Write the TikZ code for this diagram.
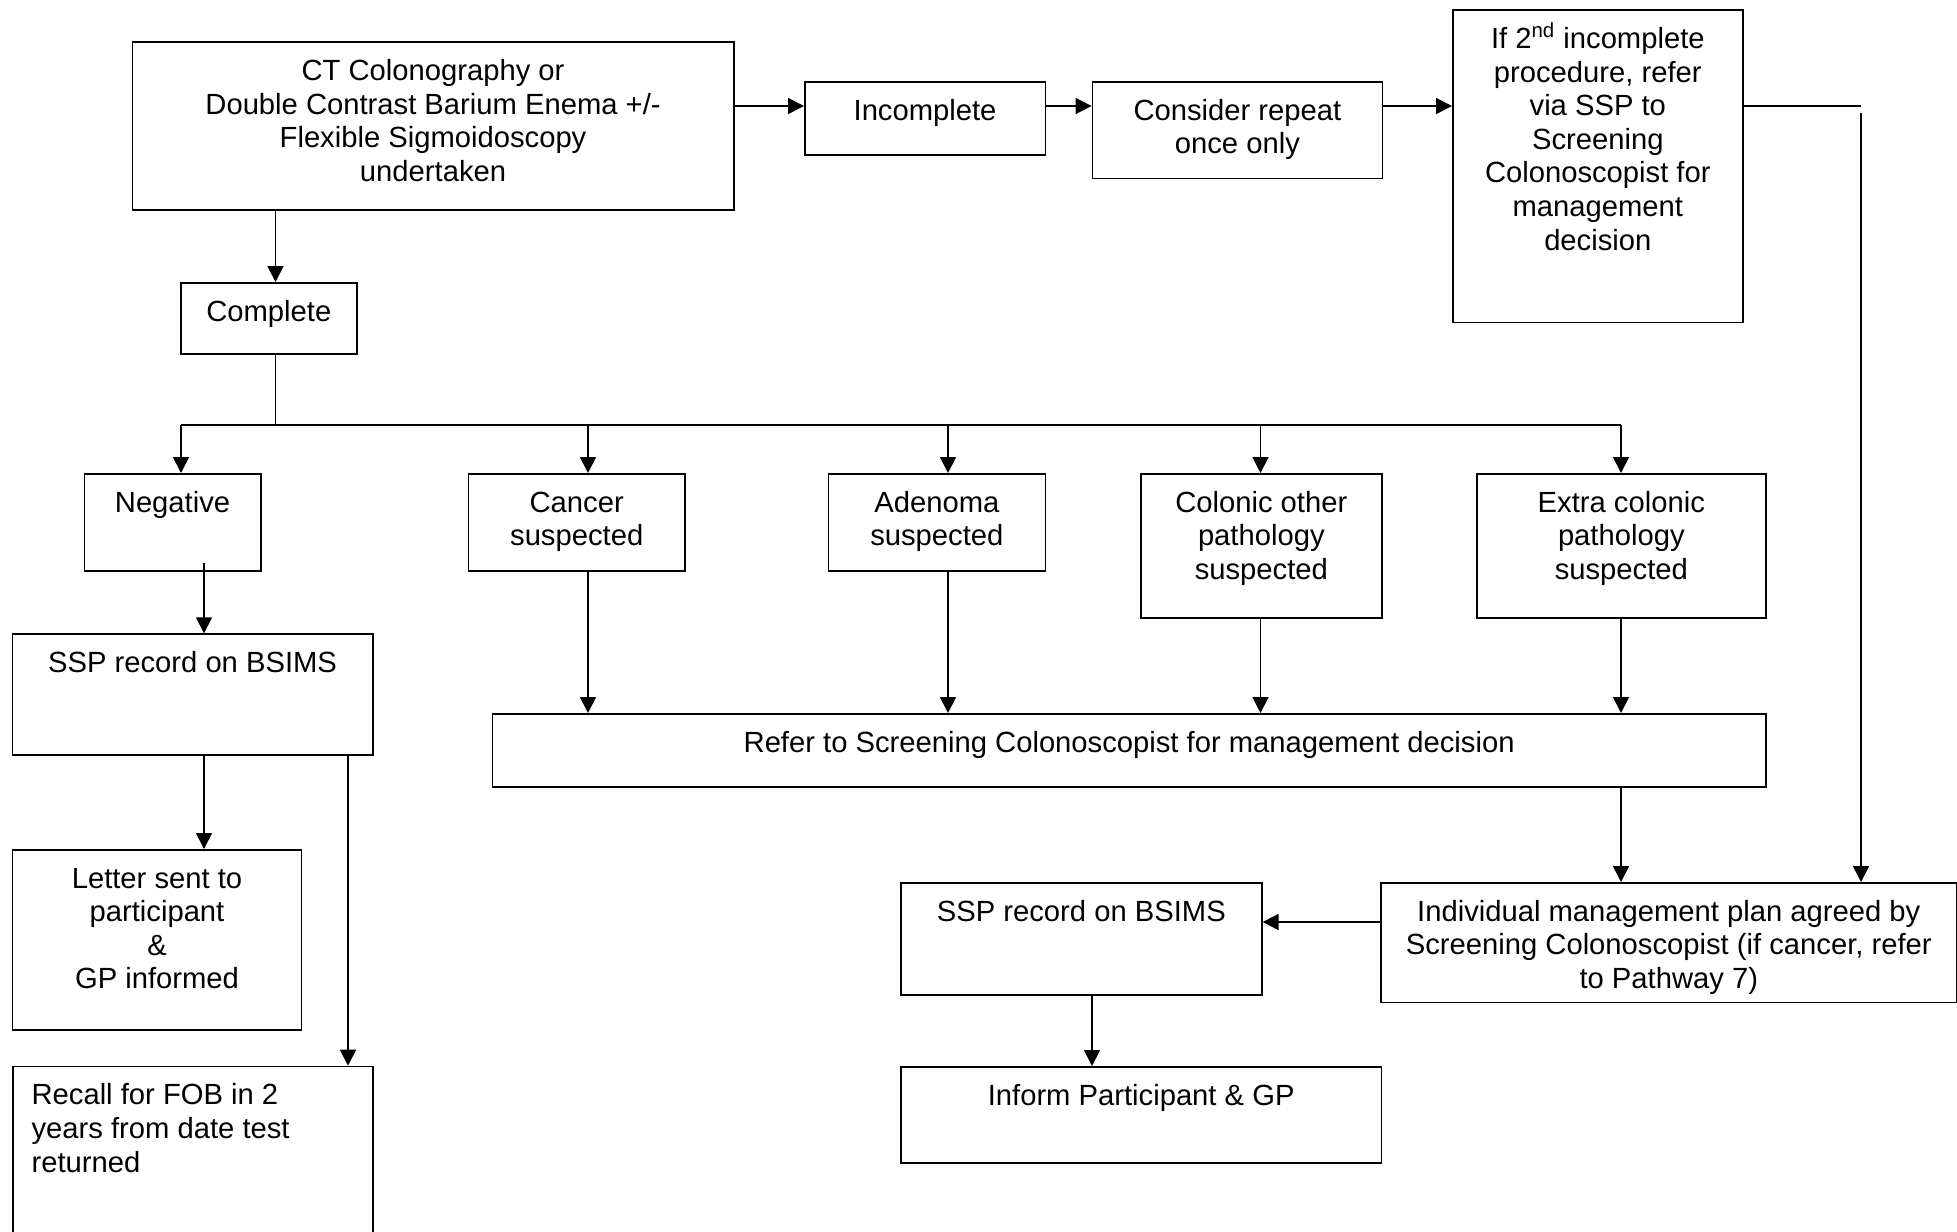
\documentclass[tikz,border=0pt]{standalone}
\usepackage{fontspec}
\setmainfont{Liberation Sans}
\usetikzlibrary{arrows.meta}
\tikzset{
  box/.style={draw, line width=0.8pt, inner sep=0pt, anchor=north west},
  txt/.style={inner sep=0pt, anchor=north, align=center, font=\fontsize{14.6pt}{16.8pt}\selectfont},
  txtl/.style={inner sep=0pt, anchor=north west, align=left, font=\fontsize{14.6pt}{16.8pt}\selectfont},
  conn/.style={line width=0.85pt},
  arr/.style={line width=0.85pt, -{Triangle[length=8pt,width=8pt]}}
}
\newcommand\fbx[6]{%
  \node[box, minimum width={(#4-#2)*0.5pt}, minimum height={(#5-#3)*0.5pt}] (#1) at (#2,#3) {};
  \node[txt] (#1-t) at ([yshift=-7.6pt]#1.north) {\strut #6};}
\begin{document}
\begin{tikzpicture}[x=0.5pt, y=-0.5pt]
\useasboundingbox (0,0) rectangle (1957,1231);
\clip (0,0) rectangle (1957,1231);

% boxes
\fbx{ct}{131.5}{41.3}{733}{209.3}{CT Colonography or\\Double Contrast Barium Enema +/-\\Flexible Sigmoidoscopy\\undertaken}
\fbx{inc}{804}{81}{1044.5}{154}{Incomplete}
\fbx{cons}{1091.6}{81}{1381.6}{177.7}{Consider repeat\\once only}
\fbx{if2}{1452}{9.3}{1742}{321.7}{If 2\smash{\textsuperscript{nd}} incomplete\\procedure, refer\\via SSP to\\Screening\\Colonoscopist for\\management\\decision}
\fbx{comp}{180}{282}{356}{353}{Complete}
\fbx{neg}{83.5}{473}{260}{570}{Negative}
\fbx{cancer}{467.5}{473}{684.3}{570}{Cancer\\suspected}
\fbx{aden}{827.5}{473}{1044.6}{570}{Adenoma\\suspected}
\fbx{colo}{1140}{473}{1381}{617}{Colonic other\\pathology\\suspected}
\fbx{extra}{1476}{473}{1765}{617}{Extra colonic\\pathology\\suspected}
\fbx{sspa}{11.5}{633.3}{372}{754}{SSP record on BSIMS}
\fbx{refer}{491.7}{713}{1765}{786}{Refer to Screening Colonoscopist for management decision}
\fbx{letter}{11.7}{849}{300.7}{1029}{Letter sent to\\participant\\\&\\GP informed}
\node[box, minimum width={(372-12)*0.5pt}, minimum height={(1260-1065.7)*0.5pt}] (recall) at (12,1065.7) {};
\node[txtl] (recall-t) at ([xshift=9.6pt,yshift=-7.6pt]recall.north west) {\strut Recall for FOB in 2\\years from date test\\returned};
\fbx{indiv}{1380}{882}{1956}{1001.7}{Individual management plan agreed by\\Screening Colonoscopist (if cancer, refer\\to Pathway 7)}
\fbx{sspb}{900}{882}{1261}{994}{SSP record on BSIMS}
\fbx{inform}{900}{1066}{1380.7}{1162}{Inform Participant \& GP}

% helper coordinates
\coordinate (row1) at (0,106);
\coordinate (rt1) at (1861,106);
\coordinate (rt2) at (1861,113);
\coordinate (xc) at (275.5,0);
\coordinate (bus) at (0,425);
\coordinate (xneg) at (181,0);
\coordinate (xcan) at (588,0);
\coordinate (xade) at (948,0);
\coordinate (xcol) at (1260.5,0);
\coordinate (xext) at (1621,0);
\coordinate (xsa) at (204,0);
\coordinate (xsb) at (348,0);
\coordinate (row2) at (0,922);
\coordinate (xinf) at (1092,0);

% top row
\draw[arr] (ct.east |- row1) -- (inc.west |- row1);
\draw[arr] (inc.east |- row1) -- (cons.west |- row1);
\draw[arr] (cons.east |- row1) -- (if2.west |- row1);
\draw[conn] (if2.east |- row1) -- (rt1);
\draw[arr] (rt2) -- (indiv.north -| rt2);

% complete and branches
\draw[arr] (ct.south -| xc) -- (comp.north -| xc);
\draw[conn] (comp.south -| xc) -- (bus -| xc);
\draw[conn] (bus -| xneg) -- (bus -| xext);
\draw[arr] (bus -| xneg) -- (neg.north -| xneg);
\draw[arr] (bus -| xcan) -- (cancer.north -| xcan);
\draw[arr] (bus -| xade) -- (aden.north -| xade);
\draw[arr] (bus -| xcol) -- (colo.north -| xcol);
\draw[arr] (bus -| xext) -- (extra.north -| xext);

% negative path
\draw[arr] ([yshift=4.5pt]neg.south -| xsa) -- (sspa.north -| xsa);
\draw[arr] (sspa.south -| xsa) -- (letter.north -| xsa);
\draw[arr] (sspa.south -| xsb) -- (recall.north -| xsb);

% to refer
\draw[arr] (cancer.south -| xcan) -- (refer.north -| xcan);
\draw[arr] (aden.south -| xade) -- (refer.north -| xade);
\draw[arr] (colo.south -| xcol) -- (refer.north -| xcol);
\draw[arr] (extra.south -| xext) -- (refer.north -| xext);
\draw[arr] (refer.south -| xext) -- (indiv.north -| xext);

% bottom right
\draw[arr] (indiv.west |- row2) -- (sspb.east |- row2);
\draw[arr] (sspb.south -| xinf) -- (inform.north -| xinf);
\end{tikzpicture}
\end{document}
